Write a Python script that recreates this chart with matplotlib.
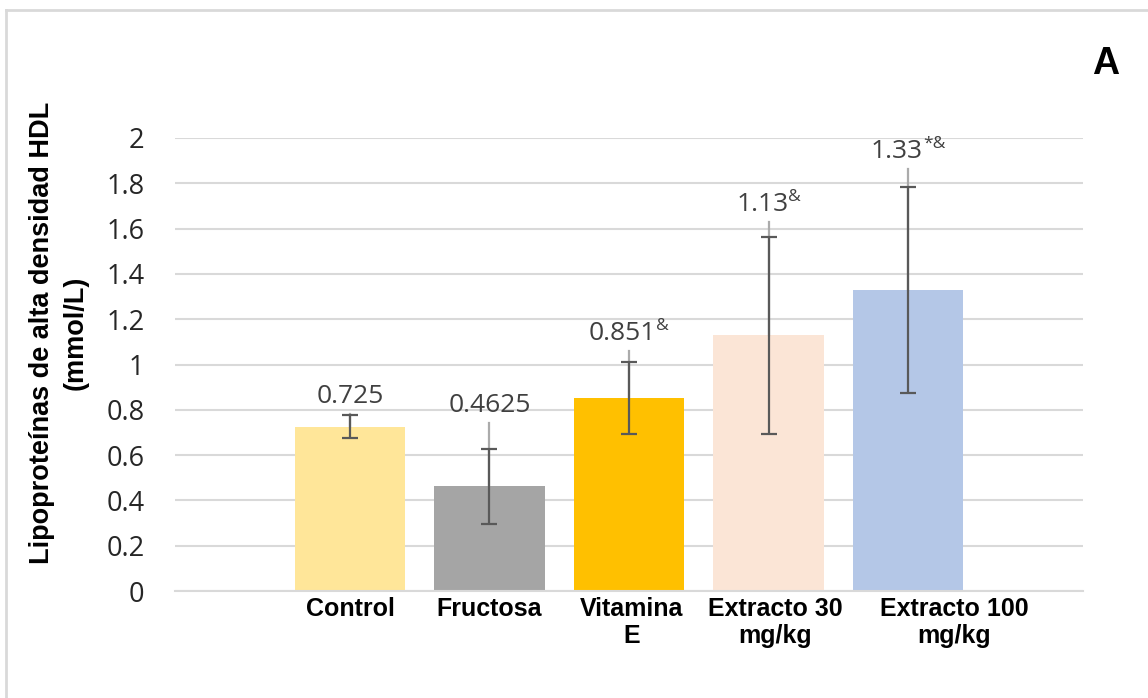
import matplotlib
matplotlib.use("Agg")
import matplotlib.pyplot as plt
import matplotlib.transforms as mtransforms
from matplotlib.lines import Line2D
import numpy as np

categories = ["Control", "Fructosa", "Vitamina\nE", "Extracto 30\nmg/kg", "Extracto 100\nmg/kg"]
values = [0.725, 0.4625, 0.851, 1.13, 1.33]
err_dark = [0.05, 0.165, 0.158, 0.435, 0.455]
light_top = [0.781, 0.743, 1.06, 1.628, 1.862]
value_labels = ["0.725", "0.4625", "0.851", "1.13", "1.33"]
label_sup = ["", "", "&", "&", "*&"]
colors = ["#FFE699", "#A5A5A5", "#FFC000", "#FBE5D6", "#B4C7E7"]
yticks = [0, 0.2, 0.4, 0.6, 0.8, 1, 1.2, 1.4, 1.6, 1.8, 2]
ytick_labels = ["0", "0.2", "0.4", "0.6", "0.8", "1", "1.2", "1.4", "1.6", "1.8", "2"]

W, H = 1148, 698
DPI = 100
fig = plt.figure(figsize=(W / DPI, H / DPI), dpi=DPI)
ax = fig.add_axes([175 / W, 1 - 591 / H, (1083 - 175) / W, (591 - 138) / H])

x = np.arange(len(categories))
ax.bar(x, values, width=0.79, color=colors, zorder=2)

# light (outer) error lines
for xi, v, t in zip(x, values, light_top):
    ax.plot([xi, xi], [v, t], color="#ABABAB", lw=1.6, zorder=3)

# dark error bars
ax.errorbar(x, values, yerr=err_dark, fmt="none", ecolor="#595959", elinewidth=1.6,
            capsize=6, capthick=1.6, zorder=4)

ax.set_xlim(-1.254, 5.254)
ax.set_ylim(0, 2)
ax.set_yticks(yticks)
ax.set_yticklabels(ytick_labels, family="Open Sans", fontsize=19.5, color="#262626")
ax.set_xticks(x)
ax.set_xticklabels(categories, family="Liberation Sans", fontweight="bold", fontsize=18, color="black")
ax.tick_params(axis="both", length=0)
ax.tick_params(axis="y", pad=22)
ax.tick_params(axis="x", pad=4)

# shift some x tick labels like the original
offsets = [0, 0, 3, 7, 46]
for lbl, dx in zip(ax.get_xticklabels(), offsets):
    lbl.set_transform(lbl.get_transform() + mtransforms.ScaledTranslation(dx / DPI, 0, fig.dpi_scale_trans))

ax.yaxis.grid(True, color="#D9D9D9", lw=1.5, zorder=0)
ax.set_axisbelow(True)
for side in ["top", "right", "left"]:
    ax.spines[side].set_visible(False)
ax.spines["bottom"].set_color("#D9D9D9")
ax.spines["bottom"].set_linewidth(1.5)

# value labels with superscripts, centered as a whole
renderer = fig.canvas.get_renderer()
pt = 72 / DPI
base = 11 * pt
rise = 10 * pt
for xi, t, lab, sup in zip(x, light_top, value_labels, label_sup):
    tm = ax.annotate(lab, xy=(xi, t), xytext=(0, base), textcoords="offset points",
                     ha="left", va="baseline", fontsize=19, family="Open Sans", color="#404040", zorder=5)
    w1 = tm.get_window_extent(renderer).width
    w2 = 0
    ts = None
    if sup:
        ts = ax.annotate(sup, xy=(xi, t), xytext=(0, base + rise), textcoords="offset points",
                         ha="left", va="baseline", fontsize=12.5, family="Open Sans", color="#404040", zorder=5)
        w2 = ts.get_window_extent(renderer).width
    start = -(w1 + w2) / 2
    tm.xyann = (start * pt, base)
    if ts is not None:
        ts.xyann = ((start + w1) * pt, base + rise)

fig.text(59 / W, 1 - 333 / H, "Lipoproteínas de alta densidad HDL\n(mmol/L)", rotation=90,
         ha="center", va="center", multialignment="center", family="Liberation Sans",
         fontweight="bold", fontsize=19.5, linespacing=1.35)

fig.text(1106 / W, 1 - 64 / H, "A", ha="center", va="center", family="Liberation Sans",
         fontweight="bold", fontsize=27)

# outer frame (top and left visible)
fig.add_artist(Line2D([6 / W, 6 / W], [0, 1 - 10 / H], transform=fig.transFigure, color="#D9D9D9", lw=2))
fig.add_artist(Line2D([6 / W, 1], [1 - 10 / H, 1 - 10 / H], transform=fig.transFigure, color="#D9D9D9", lw=2))

fig.savefig("out.png", dpi=DPI)
